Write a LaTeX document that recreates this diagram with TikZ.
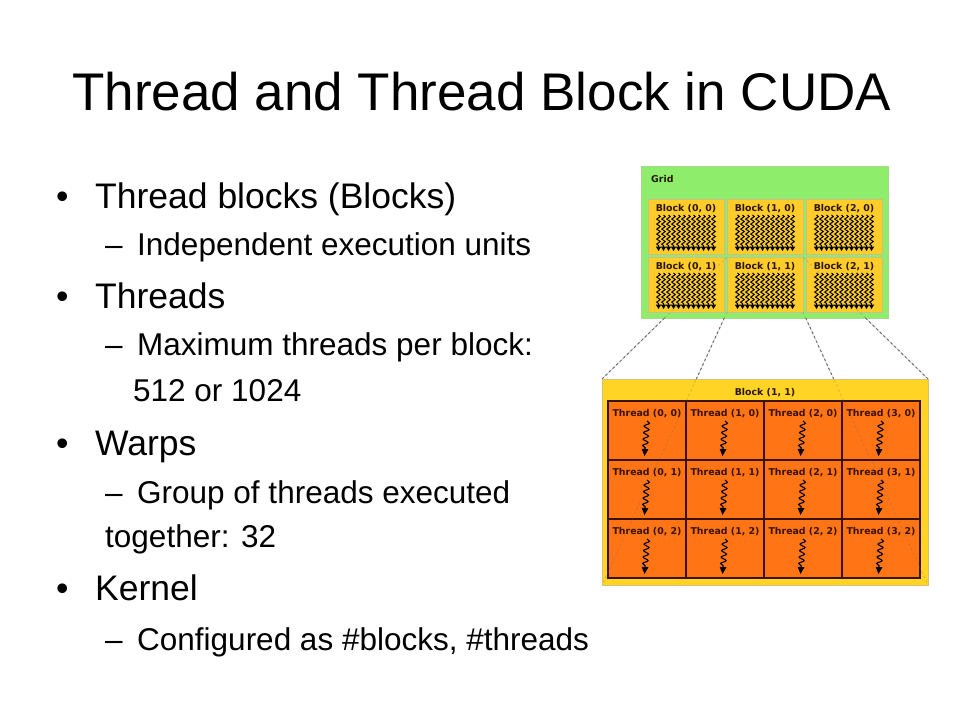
\documentclass[tikz,border=0pt]{standalone}
\usepackage{fontspec}
\setmainfont{Liberation Sans}
\newfontfamily\dvb{DejaVu Sans Bold}
\usetikzlibrary{decorations.pathmorphing,arrows.meta,calc}
\definecolor{gridgreen}{HTML}{8EEE6C}
\definecolor{gridedge}{HTML}{A6D98E}
\definecolor{blockyel}{HTML}{FFCC2A}
\definecolor{blockedge}{HTML}{CDBE86}
\definecolor{bigyel}{HTML}{FFD424}
\definecolor{bigedge}{HTML}{D8C27A}
\definecolor{cellorange}{HTML}{FF7414}
\definecolor{celline}{HTML}{3A1200}
\definecolor{lblcol}{HTML}{2A1600}
\definecolor{dashcol}{HTML}{6A6A6A}
\tikzset{
  lvlone/.style={anchor=base west, inner sep=0pt, font=\fontsize{35.5}{40}\selectfont},
  lvltwo/.style={anchor=base west, inner sep=0pt, font=\fontsize{31.5}{36}\selectfont},
  dlabel/.style={inner sep=0pt, text=lblcol, font=\dvb\fontsize{9.4}{10}\selectfont},
  gridbox/.style={draw=gridedge, fill=gridgreen, line width=0.8pt, inner sep=0pt, outer sep=0pt, anchor=north west, minimum width=247pt, minimum height=152pt},
  blockbox/.style={draw=blockedge, fill=blockyel, line width=0.8pt, inner sep=0pt, outer sep=0pt, anchor=north west, minimum width=76pt, minimum height=55pt},
  bigbox/.style={draw=bigedge, fill=bigyel, line width=0.8pt, inner sep=0pt, outer sep=0pt, anchor=north west, minimum width=326pt, minimum height=206pt},
  cellbox/.style={draw=celline, fill=cellorange, line width=1.1pt, inner sep=0pt, outer sep=0pt, anchor=north west, minimum width=78pt, minimum height=59pt},
  smallwave/.style={line width=1pt, -{Triangle[length=4.5pt,width=5.2pt]}, decorate, decoration={snake, amplitude=1.8pt, segment length=5pt, post length=4.5pt}},
  bigwave/.style={line width=1.1pt, -{Triangle[length=7pt,width=6.5pt]}, decorate, decoration={snake, amplitude=2.6pt, segment length=6.5pt, post length=6.5pt}},
  zoomline/.style={draw=dashcol, line width=1pt, dash pattern=on 2.5pt off 2.5pt},
  faintline/.style={draw=dashcol, line width=0.8pt, dash pattern=on 2.5pt off 2.5pt, opacity=0.3}
}
\begin{document}
\begin{tikzpicture}[x=1pt,y=-1pt]
\useasboundingbox (0,0) rectangle (960,720);
\fill[white] (0,0) rectangle (960,720);

% title
\node[anchor=base west, inner sep=0pt, font=\fontsize{53}{60}\selectfont] (title) at (72,110) {Thread and Thread Block in CUDA};

% bullets
\node[lvlone] (b1) at (56,208) {•};
\node[lvlone] (t1) at (95,208) {Thread blocks (Blocks)};
\node[lvltwo] (d1) at (105,255) {–};
\node[lvltwo] (s1) at (137,255) {Independent execution units};
\node[lvlone] (b2) at (56,308) {•};
\node[lvlone] (t2) at (95,308) {Threads};
\node[lvltwo] (d2) at (105,355) {–};
\node[lvltwo] (s2) at (137,355) {Maximum threads per block:};
\node[lvltwo] (s2b) at (133,401) {512 or 1024};
\node[lvlone] (b3) at (56,455) {•};
\node[lvlone] (t3) at (95,455) {Warps};
\node[lvltwo] (d3) at (105,503) {–};
\node[lvltwo] (s3) at (137,503) {Group of threads executed};
\node[lvltwo] (s3b) at (105,547) {together: 32};
\node[lvlone] (b4) at (56,600) {•};
\node[lvlone] (t4) at (95,600) {Kernel};
\node[lvltwo] (d4) at (105,650) {–};
\node[lvltwo] (s4) at (137,650) {Configured as \#blocks, \#threads};

% grid
\node[gridbox] (grid) at (641,166) {};
\node[dlabel, anchor=base west] (gridlbl) at (651,182) {Grid};
\foreach \i in {0,1,2}{
  \foreach \j in {0,1}{
    \pgfmathsetmacro{\bx}{648+79*\i}
    \pgfmathsetmacro{\by}{199+58*\j}
    \node[blockbox] (b\i\j) at (\bx,\by) {};
    \node[dlabel, anchor=base] (bl\i\j) at (\bx+38,\by+12.5) {Block (\i, \j)};
    \foreach \k in {0,...,11}{
      \draw[smallwave] (\bx+10.5+5*\k,\by+16) -- (\bx+10.5+5*\k,\by+52);
    }
  }
}

% big block
\node[bigbox] (big) at (602,379) {};
\node[dlabel, anchor=base] (biglbl) at (765,395) {Block (1, 1)};
\foreach \c in {0,1,2,3}{
  \foreach \r in {0,1,2}{
    \pgfmathsetmacro{\cx}{608+78*\c}
    \pgfmathsetmacro{\cy}{401+59*\r}
    \node[cellbox] (t\c\r) at (\cx,\cy) {};
    \node[dlabel, text=celline, anchor=base] (tl\c\r) at (\cx+39,\cy+15.5) {Thread (\c, \r)};
    \draw[bigwave] (\cx+39,\cy+20) -- (\cx+36.5,\cy+55);
  }
}
\draw[celline, line width=1.4pt] (t00.north west) rectangle (t32.south east);

% zoom lines
\draw[faintline] (b11.north west) -- (big.north west);
\draw[faintline] (b11.north east) -- (big.north east);
\draw[faintline] (b11.south west) -- (big.south west);
\draw[faintline] (b11.south east) -- (big.south east);
\draw[zoomline] ($(b11.north west)!0.5!(big.north west)$) -- (big.north west);
\draw[zoomline] ($(b11.north east)!0.5!(big.north east)$) -- (big.north east);
\draw[zoomline] ($(b11.south west)!0.022!(big.south west)$) -- ($(b11.south west)!0.245!(big.south west)$);
\draw[zoomline] ($(b11.south east)!0.022!(big.south east)$) -- ($(b11.south east)!0.245!(big.south east)$);
\end{tikzpicture}
\end{document}
